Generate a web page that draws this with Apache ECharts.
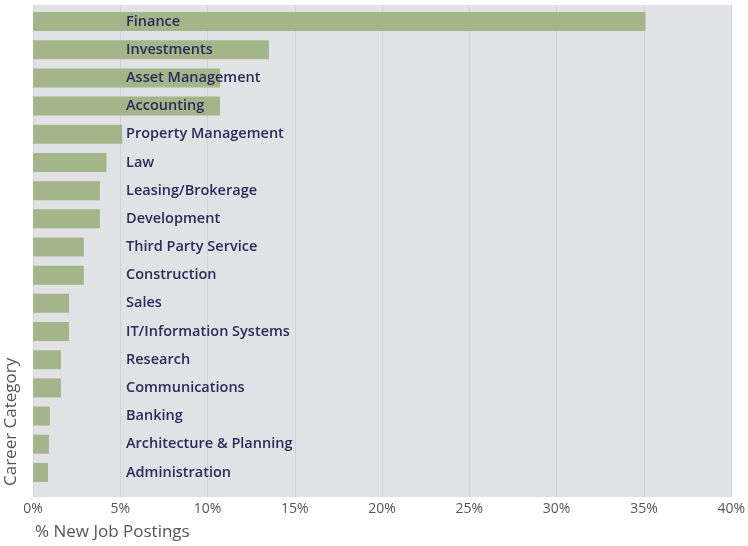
<!DOCTYPE html>
<html><head><meta charset="utf-8">
<script src="https://cdn.jsdelivr.net/npm/echarts@6/dist/echarts.min.js"></script>
<style>html,body{margin:0;padding:0;background:#fff}#c{width:748px;height:546px}</style>
</head><body><div id="c"></div>
<script>
const categories = ["Finance","Investments","Asset Management","Accounting","Property Management","Law","Leasing/Brokerage","Development","Third Party Service","Construction","Sales","IT/Information Systems","Research","Communications","Banking","Architecture & Planning","Administration"];
const values = [35.05,13.5,10.7,10.7,5.1,4.2,3.83,3.83,2.91,2.91,2.06,2.06,1.6,1.6,0.97,0.91,0.86];
const xTicks = {min:0, max:40, interval:5};
const xTitle = "% New Job Postings";
const yTitle = "Career Category";

const chart = echarts.init(document.getElementById('c'), null, {renderer:'canvas'});
chart.setOption({
  animation:false,
  backgroundColor:'#ffffff',
  grid:[
    {left:33,right:16,top:5,bottom:49,show:true,backgroundColor:'#e1e2e5',borderWidth:0},
    {left:33,right:16,top:7.5,bottom:59.5}
  ],
  xAxis:[
    {gridIndex:0,type:'value',min:xTicks.min,max:xTicks.max,interval:xTicks.interval,
     axisLine:{show:false},axisTick:{show:false},
     splitLine:{show:true,lineStyle:{color:'#d1d2d5',width:1}},
     axisLabel:{formatter:'{value}%',color:'#555555',fontSize:14,fontFamily:'Open Sans',margin:5}},
    {gridIndex:1,type:'value',min:xTicks.min,max:xTicks.max,show:false}
  ],
  yAxis:[
    {gridIndex:0,type:'category',data:categories,show:false},
    {gridIndex:1,type:'category',data:categories,inverse:true,z:10,
     axisLine:{show:false},axisTick:{show:false},splitLine:{show:false},
     axisLabel:{align:'left',margin:-93,color:'#2b2b5c',fontSize:14.5,fontWeight:600,fontFamily:'Open Sans'}}
  ],
  series:[{
    type:'bar',xAxisIndex:1,yAxisIndex:1,data:values,barWidth:19,
    itemStyle:{color:'#a3b68a'},z:2
  }],
  graphic:[
    {type:'text',left:35,top:524,style:{text:xTitle,fill:'#555555',font:'17px "Open Sans"'}},
    {type:'text',x:3,y:486,rotation:Math.PI/2,style:{text:yTitle,fill:'#555555',font:'17px "Open Sans"',textAlign:'left',textVerticalAlign:'top'}}
  ]
});
</script></body></html>
